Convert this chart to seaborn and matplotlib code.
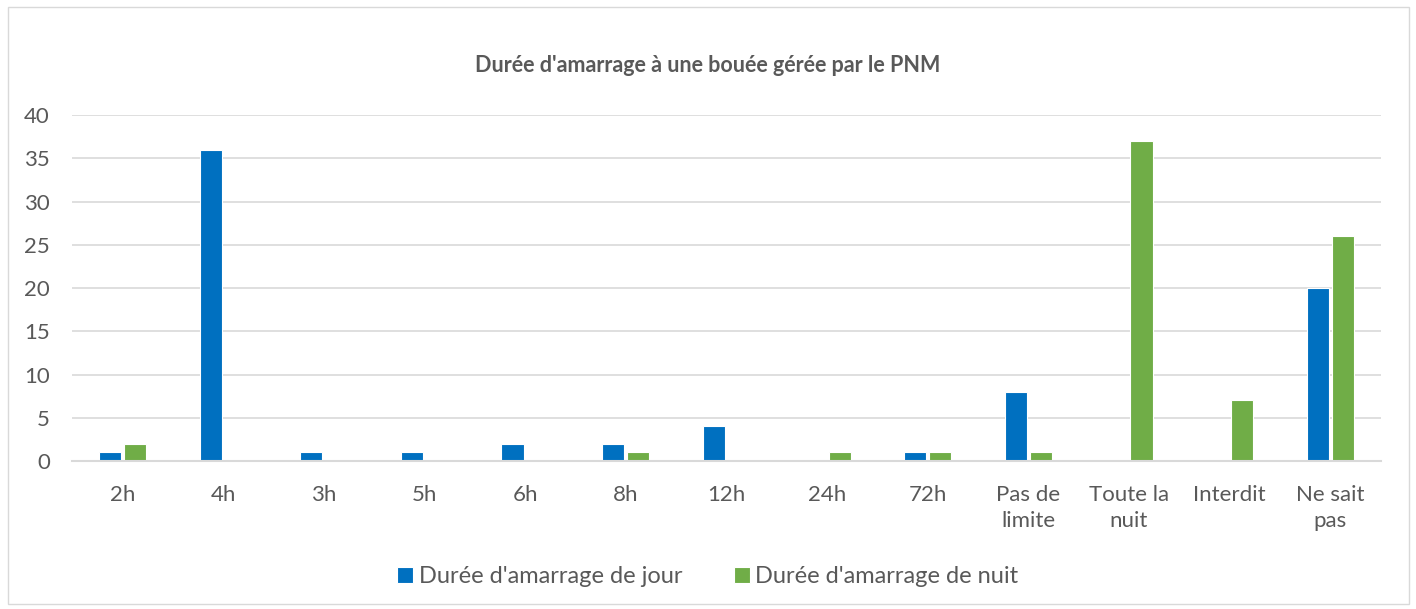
# Durée d'amarrage à une bouée gérée par le PNM - recreated with seaborn

import pandas as pd
import matplotlib.pyplot as plt
import seaborn as sns
from matplotlib.patches import Rectangle

### DATA ###

categories = ['2h', '4h', '3h', '5h', '6h', '8h', '12h', '24h', '72h',
              'Pas de\nlimite', 'Toute la\nnuit', 'Interdit', 'Ne sait\npas']
jour = [1, 36, 1, 1, 2, 2, 4, 0, 1, 8, 0, 0, 20]
nuit = [2, 0, 0, 0, 0, 1, 0, 1, 1, 1, 37, 7, 26]
series = ["Durée d'amarrage de jour", "Durée d'amarrage de nuit"]
yticks = [0, 5, 10, 15, 20, 25, 30, 35, 40]

# Long format table for seaborn
df = pd.DataFrame({
    'cat': categories * 2,
    'val': jour + nuit,
    'serie': [series[0]] * len(categories) + [series[1]] * len(categories),
})

### STYLE ###

sns.set_style('white')
plt.rcParams['font.family'] = ['Lato', 'DejaVu Sans']
grey = '#595959'
colors = {series[0]: '#0070C0', series[1]: '#70AD47'}

### FIGURE ###

fig = plt.figure(figsize=(14.16, 6.09), dpi=100)
ax = fig.add_axes([0.051, 0.243, 0.924, 0.568])

sns.barplot(data=df, x='cat', y='val', hue='serie', order=categories,
            hue_order=series, palette=colors, saturation=1, width=0.5, gap=0.12,
            edgecolor='white', linewidth=0.8, ax=ax)

ax.set_ylim(0, 40)
ax.set_yticks(yticks)
ax.set_xlim(-0.5, len(categories) - 0.5)
ax.yaxis.grid(True, color='#D9D9D9', linewidth=1.2)
ax.set_axisbelow(True)
for side in ['top', 'right', 'left']:
    ax.spines[side].set_visible(False)
ax.spines['bottom'].set_color('#D9D9D9')
ax.spines['bottom'].set_linewidth(1.5)
ax.tick_params(axis='both', length=0, colors=grey, labelsize=16)
ax.tick_params(axis='x', pad=17)
ax.tick_params(axis='y', pad=16)
ax.set_xlabel('')
ax.set_ylabel('')
for lbl in ax.get_xticklabels():
    lbl.set_linespacing(1.4)

fig.text(0.5, 0.893, "Durée d'amarrage à une bouée gérée par le PNM",
         ha='center', va='center', fontsize=15.5, fontweight='bold', color=grey)

ax.legend(loc='center', ncol=2, frameon=False, fontsize=17,
          handlelength=0.65, handleheight=0.65, handletextpad=0.25,
          columnspacing=2.2, labelcolor=grey)
ax.get_legend().set_bbox_to_anchor((0.5, 0.053), transform=fig.transFigure)

# Light border around the chart area
fig.patches.append(Rectangle((0.006, 0.008), 0.989, 0.98, transform=fig.transFigure,
                             fill=False, edgecolor='#D9D9D9', linewidth=1))

plt.savefig('out.png', dpi=100)
